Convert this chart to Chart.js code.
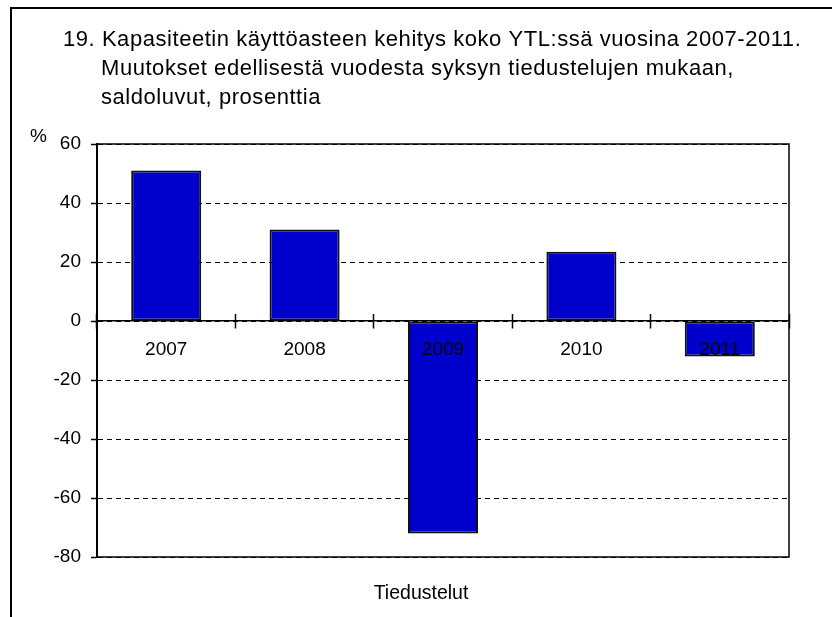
<!DOCTYPE html>
<html>
<head>
<meta charset="utf-8">
<script src="https://cdn.jsdelivr.net/npm/chart.js@4"></script>
<style>
  html, body { margin: 0; padding: 0; background: #fff; }
  #c { display: block; }
</style>
</head>
<body>
<canvas id="c" width="832" height="617"></canvas>
<script>
// ---- data ----
const categories = ['2007', '2008', '2009', '2010', '2011'];
const values = [51, 31, -72, 23.5, -12];
const yTicks = [-80, -60, -40, -20, 0, 20, 40, 60];
const titleLines = [
  '19. Kapasiteetin käyttöasteen kehitys koko YTL:ssä vuosina 2007-2011.',
  'Muutokset edellisestä vuodesta syksyn tiedustelujen mukaan,',
  'saldoluvut, prosenttia'
];
const unitLabel = '%';
const xAxisTitle = 'Tiedustelut';

const FONT = '"Liberation Sans", Arial, Helvetica, sans-serif';

const decorPlugin = {
  id: 'decor',
  afterDraw(chart) {
    const ctx = chart.ctx;
    const a = chart.chartArea;
    ctx.save();
    // outer frame (left + top)
    ctx.strokeStyle = '#000';
    ctx.lineWidth = 2;
    ctx.beginPath();
    ctx.moveTo(11, 617);
    ctx.lineTo(11, 8);
    ctx.lineTo(832, 8);
    ctx.stroke();
    // plot area frame
    ctx.lineWidth = 1.5;
    ctx.strokeRect(a.left, a.top, a.right - a.left, a.bottom - a.top);
    // title
    ctx.fillStyle = '#000';
    ctx.textBaseline = 'alphabetic';
    ctx.textAlign = 'left';
    ctx.font = '22px ' + FONT;
    if ('letterSpacing' in ctx) ctx.letterSpacing = '0.55px';
    ctx.fillText(titleLines[0], 63, 45.5);
    ctx.fillText(titleLines[1], 101, 75);
    ctx.fillText(titleLines[2], 101, 103.5);
    if ('letterSpacing' in ctx) ctx.letterSpacing = '0px';
    // unit label
    ctx.font = '19px ' + FONT;
    ctx.fillText(unitLabel, 30, 142);
    // bottom axis title
    ctx.textAlign = 'center';
    ctx.font = '19.5px ' + FONT;
    ctx.fillText(xAxisTitle, 421, 599);
    ctx.restore();
  }
};

new Chart(document.getElementById('c'), {
  type: 'bar',
  data: {
    labels: categories,
    datasets: [{
      data: values,
      backgroundColor: '#0000cc',
      borderColor: '#111',
      borderWidth: 2,
      borderSkipped: false,
      categoryPercentage: 1,
      barPercentage: 0.506
    }]
  },
  options: {
    responsive: false,
    animation: false,
    devicePixelRatio: 1,
    layout: { padding: { left: 11, right: 43, top: 144, bottom: 60 } },
    plugins: { legend: { display: false }, title: { display: false }, tooltip: { enabled: false } },
    scales: {
      y: {
        position: 'left',
        min: -80,
        max: 60,
        afterBuildTicks: (s) => { s.ticks = yTicks.map(v => ({ value: v })); },
        afterFit: (s) => { s.width = 86; },
        ticks: { color: '#000', font: { family: FONT, size: 19 }, padding: 10 },
        grid: { color: '#000', lineWidth: 1, drawTicks: true, tickLength: 6, tickColor: '#000', tickWidth: 1.5 },
        border: { display: true, color: '#000', width: 2, dash: [5, 4] }
      },
      x: {
        type: 'category',
        position: { y: 0 },
        offset: true,
        grid: { offset: true, drawOnChartArea: false, drawTicks: true, tickLength: 7, tickColor: '#000', tickWidth: 1.5, color: '#000' },
        border: { display: true, color: '#000', width: 1.5 },
        ticks: { color: '#000', font: { family: FONT, size: 19 }, padding: 10, maxRotation: 0, z: 1 }
      },
      xt: {
        type: 'category',
        axis: 'x',
        position: { y: 0 },
        offset: true,
        grid: { offset: true, drawOnChartArea: false, drawTicks: true, tickLength: -7, tickColor: '#000', tickWidth: 1.5, color: '#000' },
        border: { display: false },
        ticks: { display: false }
      }
    }
  },
  plugins: [decorPlugin]
});
</script>
</body>
</html>
